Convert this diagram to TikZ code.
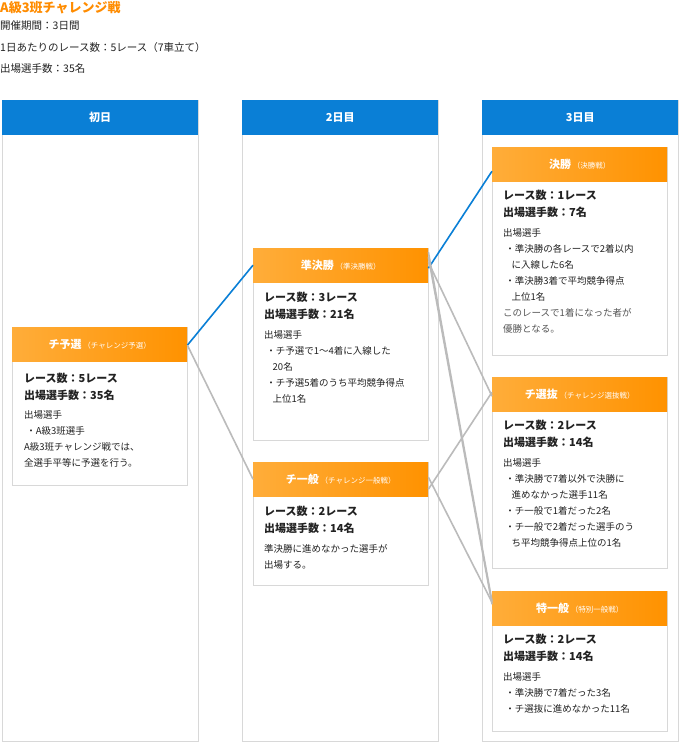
\documentclass[tikz,border=0pt]{standalone}
\usepackage{fontspec}
\setmainfont{Noto Sans CJK JP}
\newfontfamily\jpb{Noto Sans CJK JP Bold}
\definecolor{hblue}{HTML}{0A7FD6}
\definecolor{org1}{HTML}{FFAD3A}
\definecolor{org2}{HTML}{FF9200}
\definecolor{ttl}{HTML}{FF8C00}
\definecolor{bord}{HTML}{D8D8D8}
\definecolor{txt}{HTML}{222222}
\definecolor{gtxt}{HTML}{555555}
\definecolor{lgray}{HTML}{BBBBBB}
\begin{document}
\begin{tikzpicture}[x=1pt,y=-1pt,
  colpanel/.style={draw=bord,line width=1.2pt,anchor=north west,minimum width=196pt,inner sep=0pt},
  colhead/.style={fill=hblue,anchor=north west,minimum width=196pt,minimum height=35pt,inner sep=0pt,text=white,font=\bfseries\fontsize{11}{13}\selectfont},
  cardbox/.style={draw=bord,fill=white,line width=0.8pt,anchor=north west,minimum width=175pt,inner sep=0pt},
  cardhead/.style={left color=org1,right color=org2,draw=none,anchor=north west,minimum width=175pt,minimum height=34pt,inner sep=0pt,text=white,font=\bfseries\fontsize{11}{13}\selectfont},
  sub/.style={},
  big/.style={anchor=north west,align=left,inner sep=0pt,text=txt,font=\bfseries\fontsize{11}{17}\selectfont},
  body/.style={anchor=north west,align=left,inner sep=0pt,text=txt,font=\fontsize{9.5}{16}\selectfont},
  bluel/.style={draw=hblue,line width=1.6pt},
  grayl/.style={draw=lgray,line width=1.6pt}]
\useasboundingbox (0,0) rectangle (680,743);
\fill[white] (0,0) rectangle (680,743);
\newcommand{\smalls}[1]{{\fontsize{7.5}{9}\selectfont\mdseries #1}}
% title
\node[anchor=north west,inner sep=0pt,text=ttl,font=\bfseries\fontsize{13}{15}\selectfont] (title) at (0,1) {A級3班チャレンジ戦};
\node[anchor=north west,inner sep=0pt,align=left,text=txt,font=\fontsize{10.5}{21.5}\selectfont] (info) at (0,21) {開催期間：3日間\\1日あたりのレース数：5レース（7車立て）\\出場選手数：35名};
% columns
\foreach \x/\n/\t in {2/c1/初日,242/c2/2日目,482/c3/3日目}{
  \node[colpanel,minimum height=641pt] (\n) at (\x,100) {};
  \node[colhead] (\n h) at (\x,100) {\t};
}
% cards
\node[cardbox,minimum height=158pt] (yo) at (12,327) {};
\node[cardhead] (yoh) at (12,327) {チ予選\,\smalls{（チャレンジ予選）}};
\node[big] (yob) at (24,373) {レース数：5レース\\出場選手数：35名};
\node[body] (yot) at (24,410) {出場選手\\\ ・A級3班選手\\A級3班チャレンジ戦では、\\全選手平等に予選を行う。};

\node[cardbox,minimum height=192pt] (jk) at (253,248) {};
\node[cardhead] (jkh) at (253,248) {準決勝\,\smalls{（準決勝戦）}};
\node[big] (jkb) at (264,292) {レース数：3レース\\出場選手数：21名};
\node[body] (jkt) at (264,330) {出場選手\\\ ・チ予選で1～4着に入線した\\\ \ \ \ 20名\\\ ・チ予選5着のうち平均競争得点\\\ \ \ \ 上位1名};

\node[cardbox,minimum height=123pt] (ip) at (253,462) {};
\node[cardhead] (iph) at (253,462) {チ一般\,\smalls{（チャレンジ一般戦）}};
\node[big] (ipb) at (264,506) {レース数：2レース\\出場選手数：14名};
\node[body] (ipt) at (264,544) {準決勝に進めなかった選手が\\出場する。};

\node[cardbox,minimum height=208pt] (ks) at (492,147) {};
\node[cardhead] (ksh) at (492,147) {決勝\,\smalls{（決勝戦）}};
\node[big] (ksb) at (503,190) {レース数：1レース\\出場選手数：7名};
\node[body] (kst) at (503,228) {出場選手\\\ ・準決勝の各レースで2着以内\\\ \ \ \ に入線した6名\\\ ・準決勝3着で平均競争得点\\\ \ \ \ 上位1名\\{\color{gtxt}このレースで1着になった者が}\\{\color{gtxt}優勝となる。}};

\node[cardbox,minimum height=191pt] (sb) at (492,377) {};
\node[cardhead] (sbh) at (492,377) {チ選抜\,\smalls{（チャレンジ選抜戦）}};
\node[big] (sbb) at (503,420) {レース数：2レース\\出場選手数：14名};
\node[body] (sbt) at (503,458) {出場選手\\\ ・準決勝で7着以外で決勝に\\\ \ \ \ 進めなかった選手11名\\\ ・チ一般で1着だった2名\\\ ・チ一般で2着だった選手のう\\\ \ \ \ ち平均競争得点上位の1名};

\node[cardbox,minimum height=140pt] (tk) at (492,591) {};
\node[cardhead] (tkh) at (492,591) {特一般\,\smalls{（特別一般戦）}};
\node[big] (tkb) at (503,634) {レース数：2レース\\出場選手数：14名};
\node[body] (tkt) at (503,672) {出場選手\\\ ・準決勝で7着だった3名\\\ ・チ選抜に進めなかった11名};

% connectors
\draw[bluel] ([yshift=-1pt]yoh.east) -- (jkh.west);
\draw[grayl] ([yshift=-1pt]yoh.east) -- (iph.west);
\draw[bluel] ([yshift=-3pt]jkh.east) -- ([yshift=-7pt]ksh.west);
\draw[grayl] ([yshift=3pt]jkh.east) -- ([yshift=-2pt]sbh.west);
\draw[grayl] ([yshift=8pt]jkh.east) -- ([yshift=4pt]tkh.west);
\draw[grayl] ([yshift=13pt]jkh.east) -- ([yshift=7pt]tkh.west);
\draw[grayl] ([yshift=-10pt]iph.east) -- ([yshift=2pt]sbh.west);
\draw[grayl] ([yshift=2pt]iph.east) -- ([yshift=6pt]tkh.west);
\end{tikzpicture}
\end{document}
